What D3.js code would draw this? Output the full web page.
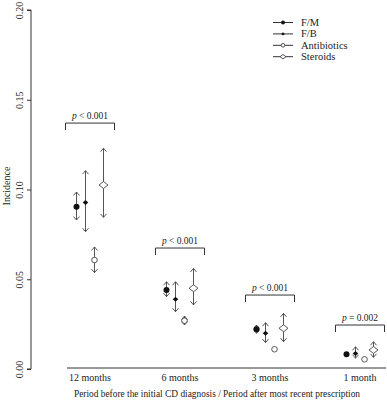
<!DOCTYPE html>
<html><head><meta charset="utf-8">
<script src="https://cdn.jsdelivr.net/npm/d3@7"></script>
<style>html,body{margin:0;padding:0;background:#fff;}svg{display:block;}</style>
</head><body>
<svg id="c" width="387" height="404"></svg>
<script>
const categories = ["12 months","6 months","3 months","1 month"];
const series = ["F/M","F/B","Antibiotics","Steroids"];
const yTicks = [0.00,0.05,0.10,0.15,0.20];
const FM = [0.0904,0.0440,0.0221,0.0082];
const FM_lo = [0.0830,0.0403,0.0199,0.0075];
const FM_hi = [0.0986,0.0486,0.0245,0.0090];
const FB = [0.0927,0.0388,0.0199,0.0087];
const FB_lo = [0.0765,0.0319,0.0147,0.0060];
const FB_hi = [0.1105,0.0486,0.0258,0.0124];
const AB = [0.0607,0.0269,0.0110,0.0054];
const AB_lo = [0.0537,0.0245,0.0100,0.0047];
const AB_hi = [0.0680,0.0295,0.0120,0.0061];
const ST = [0.1025,0.0450,0.0227,0.0106];
const ST_lo = [0.0845,0.0357,0.0152,0.0065];
const ST_hi = [0.1230,0.0560,0.0310,0.0152];
const bracketY = [0.137,0.0674,0.0412,0.0245];
const pLabels = ["< 0.001","< 0.001","< 0.001","= 0.002"];

const est = [FM,FB,AB,ST], lo=[FM_lo,FB_lo,AB_lo,ST_lo], hi=[FM_hi,FB_hi,AB_hi,ST_hi];
const svg = d3.select("#c");
const font = "Liberation Serif, Times New Roman, serif";
const y = d3.scaleLinear().domain([0,0.2]).range([369,10]);
const x = d3.scalePoint().domain(categories).range([90,360]);
const off = d3.scalePoint().domain(series).range([-13.5,13.5]);

// Y axis
const yAxis = svg.append("g").attr("transform","translate(31,0)")
  .call(d3.axisLeft(y).tickValues(yTicks).tickFormat(d3.format(".2f")).tickSize(4));
yAxis.select(".domain").attr("d","M-4,"+y(0)+"H0V"+y(0.2)+"H-4").attr("stroke","#333");
yAxis.selectAll(".tick line").attr("stroke","#333");
yAxis.selectAll(".tick text").attr("font-family",font).attr("font-size",10).attr("fill","#222")
  .attr("transform","rotate(-90)").attr("x",0).attr("y",-8).attr("dy","0")
  .attr("text-anchor","middle");
svg.append("text").attr("transform","translate(10,186) rotate(-90)").attr("text-anchor","middle")
  .attr("font-family",font).attr("font-size",10).attr("fill","#222").text("Incidence");

// X axis line & labels
svg.append("line").attr("x1",67).attr("x2",386).attr("y1",368).attr("y2",368).attr("stroke","#333");
svg.selectAll(".xl").data(categories).enter().append("text")
  .attr("x",d=>x(d)).attr("y",381).attr("text-anchor","middle")
  .attr("font-family",font).attr("font-size",10).attr("fill","#222").text(d=>d);
svg.append("text").attr("x",217).attr("y",397).attr("text-anchor","middle")
  .attr("font-family",font).attr("font-size",9.4).attr("fill","#222")
  .text("Period before the initial  CD  diagnosis / Period after most recent prescription");

// markers
function marker(g, s, cx, cy, k){
  k = k || 1;
  if(s==="F/M") g.append("circle").attr("cx",cx).attr("cy",cy).attr("r",3*k).attr("fill","#111");
  else if(s==="F/B") g.append("path").attr("d",`M${cx-2.8*k},${cy}L${cx},${cy-2.5*k}L${cx+2.8*k},${cy}L${cx},${cy+2.5*k}Z`).attr("fill","#111");
  else if(s==="Antibiotics") g.append("circle").attr("cx",cx).attr("cy",cy).attr("r",2.8*k).attr("fill","#fff").attr("stroke","#444").attr("stroke-width",0.9);
  else g.append("path").attr("d",`M${cx-4.5*k},${cy}L${cx},${cy-3.5*k}L${cx+4.5*k},${cy}L${cx},${cy+3.5*k}Z`).attr("fill","#fff").attr("stroke","#444").attr("stroke-width",0.9);
}

// error bars
const gE = svg.append("g");
series.forEach((s,si)=>{
  categories.forEach((c,ci)=>{
    const cx = x(c)+off(s);
    const yt = y(hi[si][ci]), yb = y(lo[si][ci]);
    gE.append("line").attr("x1",cx).attr("x2",cx).attr("y1",yt).attr("y2",yb).attr("stroke","#555").attr("stroke-width",1);
    if (yb-yt > 5){
      gE.append("path").attr("d",`M${cx-3},${yt+3.5}L${cx},${yt}L${cx+3},${yt+3.5}`).attr("fill","none").attr("stroke","#444").attr("stroke-width",0.9);
      gE.append("path").attr("d",`M${cx-3},${yb-3.5}L${cx},${yb}L${cx+3},${yb-3.5}`).attr("fill","none").attr("stroke","#444").attr("stroke-width",0.9);
    }
    marker(gE, s, cx, y(est[si][ci]));
  });
});

// brackets
categories.forEach((c,ci)=>{
  const cx = x(c), by = y(bracketY[ci]);
  svg.append("path").attr("d",`M${cx-24.5},${by+7}V${by}H${cx+24.5}V${by+7}`).attr("fill","none").attr("stroke","#333").attr("stroke-width",1);
  const t = svg.append("text").attr("x",cx).attr("y",by-4).attr("text-anchor","middle")
    .attr("font-family",font).attr("font-size",9.5).attr("fill","#222");
  t.append("tspan").attr("font-style","italic").text("p");
  t.append("tspan").text(" "+pLabels[ci]);
});

// legend
const lg = svg.append("g");
series.forEach((s,i)=>{
  const ly = 22.5 + i*11.4;
  lg.append("line").attr("x1",273).attr("x2",293).attr("y1",ly).attr("y2",ly).attr("stroke","#333");
  marker(lg, s, 283, ly, 0.65);
  lg.append("text").attr("x",301).attr("y",ly+3.5).attr("font-family",font).attr("font-size",10.5).attr("fill","#222").text(s);
});
</script>
</body></html>
